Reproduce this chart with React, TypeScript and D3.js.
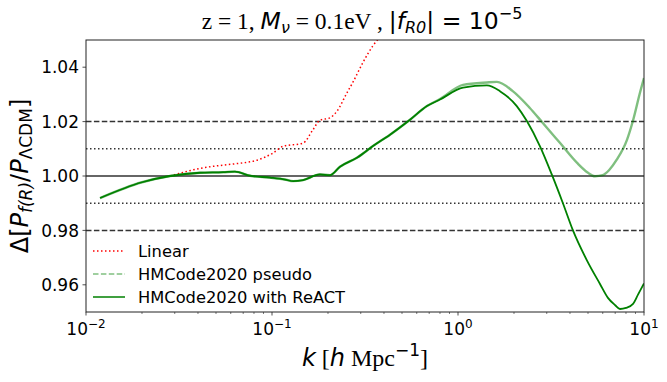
import React from 'react';
import * as d3 from 'd3';

// Linear prediction (red dotted)
const kLinear = [0.0283, 0.041, 0.0617, 0.0673, 0.083, 0.101, 0.1145, 0.147, 0.166, 0.181, 0.205, 0.2235, 0.253, 0.272, 0.308, 0.349, 0.381];
const linear = [1.0, 1.0028, 1.0044, 1.0047, 1.0058, 1.0084, 1.0109, 1.0121, 1.017, 1.0205, 1.0214, 1.0238, 1.0306, 1.0344, 1.0417, 1.0479, 1.0511];

// HMCode2020 with ReACT (green)
const kReact = [0.0119, 0.02, 0.0283, 0.041, 0.0546, 0.0632, 0.0762, 0.0975, 0.1175, 0.13, 0.147, 0.181, 0.205, 0.232, 0.286, 0.349, 0.431, 0.552, 0.681, 0.8, 1.064, 1.43, 1.68, 2.07, 2.35, 2.76, 3.2, 3.67, 4.15, 4.94, 5.79, 6.4, 7.0, 7.43, 8.0, 8.73, 9.3, 10.0];
const react = [0.9919, 0.9977, 1.0, 1.0012, 1.0014, 1.0016, 1.0001, 0.9994, 0.9987, 0.9981, 0.9985, 1.0006, 1.0003, 1.0034, 1.0067, 1.011, 1.0152, 1.0207, 1.0257, 1.0281, 1.0325, 1.0333, 1.0312, 1.0257, 1.0201, 1.0109, 1.0004, 0.9899, 0.98, 0.9689, 0.9604, 0.9552, 0.9525, 0.9511, 0.9515, 0.953, 0.9565, 0.9605];

// HMCode2020 pseudo (light green)
const kPseudo = [0.0119, 0.02, 0.0283, 0.041, 0.0546, 0.0632, 0.0762, 0.0975, 0.1175, 0.13, 0.147, 0.181, 0.205, 0.232, 0.286, 0.349, 0.431, 0.552, 0.681, 0.8, 1.064, 1.43, 1.62, 1.97, 2.42, 2.85, 3.53, 4.37, 5.0, 5.45, 6.0, 6.5, 7.12, 8.1, 8.73, 9.52, 10.0];
const pseudo = [0.9919, 0.9977, 1.0, 1.0012, 1.0014, 1.0016, 1.0001, 0.9994, 0.9987, 0.9981, 0.9985, 1.0006, 1.0003, 1.0034, 1.0067, 1.011, 1.0152, 1.0207, 1.0257, 1.0283, 1.0335, 1.0344, 1.0346, 1.0312, 1.0252, 1.0196, 1.0122, 1.0048, 1.0012, 0.9999, 1.0003, 1.0022, 1.0059, 1.0133, 1.0204, 1.0307, 1.036];

const yTicks = [0.96, 0.98, 1.0, 1.02, 1.04];
const xTickExp = [-2, -1, 0, 1];
const refSolid = [1.0];
const refDashed = [0.98, 1.02];
const refDotted = [0.99, 1.01];

const legendItems = [
  {label: 'Linear', color: 'red', dash: '1.5,2.5', width: 1.5, opacity: 1},
  {label: 'HMCode2020 pseudo', color: 'green', dash: '5.5,2.4', width: 1.5, opacity: 0.5},
  {label: 'HMCode2020 with ReACT', color: 'green', dash: null, width: 1.5, opacity: 1},
];

const SANS = 'DejaVu Sans';
const SERIF = 'Liberation Serif';

export default function App() {
  const width = 667, height = 382;
  const left = 86, right = 644, top = 40, bottom = 312;

  const x = d3.scaleLog().domain([0.01, 10]).range([left, right]);
  const y = d3.scaleLinear().domain([0.95, 1.05]).range([bottom, top]);

  const line = d3.line<[number, number]>()
    .x(d => x(d[0]))
    .y(d => y(d[1]))
    .curve(d3.curveMonotoneX);

  const zip = (ks: number[], vs: number[]) => ks.map((k, i) => [k, vs[i]] as [number, number]);

  const minorTicks: number[] = [];
  for (let e = -2; e < 1; e++) {
    for (let m = 2; m < 10; m++) minorTicks.push(m * Math.pow(10, e));
  }

  return (
    <svg width={width} height={height} style={{display: 'block', position: 'absolute', left: 0, top: 0, background: 'white'}}>
      <defs>
        <clipPath id="plot">
          <rect x={left} y={top} width={right - left} height={bottom - top} />
        </clipPath>
      </defs>

      {/* title */}
      <text x={(left + right) / 2 - 3} y={29} textAnchor="middle" fontSize={23.5} fill="black">
        <tspan fontFamily={SERIF}>z = 1, </tspan>
        <tspan fontFamily={SANS} fontStyle="italic">M</tspan>
        <tspan fontFamily={SANS} fontStyle="italic" fontSize={16} dy={4}>ν</tspan>
        <tspan fontFamily={SERIF} dy={-4}> = 0.1eV , </tspan>
        <tspan fontFamily={SANS}>|</tspan>
        <tspan fontFamily={SANS} fontStyle="italic">f</tspan>
        <tspan fontFamily={SANS} fontStyle="italic" fontSize={16} dy={4}>R0</tspan>
        <tspan fontFamily={SANS} dy={-4}>| = 10</tspan>
        <tspan fontFamily={SANS} fontSize={16} dy={-10}>−5</tspan>
      </text>

      <g clipPath="url(#plot)">
        {refDotted.map(v => (
          <line key={'dt' + v} x1={left} x2={right} y1={y(v)} y2={y(v)} stroke="#333" strokeWidth={1.5} strokeDasharray="1.5,2.5" />
        ))}
        {refDashed.map(v => (
          <line key={'ds' + v} x1={left} x2={right} y1={y(v)} y2={y(v)} stroke="#333" strokeWidth={1.5} strokeDasharray="5.5,2.4" />
        ))}
        {refSolid.map(v => (
          <line key={'sl' + v} x1={left} x2={right} y1={y(v)} y2={y(v)} stroke="#333" strokeWidth={1.5} />
        ))}

        <path d={line(zip(kLinear, linear)) || ''} fill="none" stroke="red" strokeWidth={1.5} strokeDasharray="1.5,2.5" />
        <path d={line(zip(kPseudo, pseudo)) || ''} fill="none" stroke="green" strokeOpacity={0.5} strokeWidth={2.4} />
        <path d={line(zip(kReact, react)) || ''} fill="none" stroke="green" strokeWidth={1.8} />
      </g>

      {/* frame */}
      <rect x={left} y={top} width={right - left} height={bottom - top} fill="none" stroke="#222" strokeWidth={1} />

      {/* x ticks */}
      {minorTicks.map(t => (
        <line key={'mt' + t} x1={x(t)} x2={x(t)} y1={bottom} y2={bottom + 2} stroke="#222" strokeWidth={0.6} />
      ))}
      {xTickExp.map(e => (
        <g key={'xt' + e}>
          <line x1={x(Math.pow(10, e))} x2={x(Math.pow(10, e))} y1={bottom} y2={bottom + 3.5} stroke="#222" strokeWidth={0.8} />
          <text x={x(Math.pow(10, e))} y={335} textAnchor="middle" fontFamily={SANS} fontSize={17} fill="black">
            10<tspan fontSize={12} dy={-7}>{e < 0 ? '−' + (-e) : String(e)}</tspan>
          </text>
        </g>
      ))}

      {/* y ticks */}
      {yTicks.map(t => (
        <g key={'yt' + t}>
          <line x1={left - 3.5} x2={left} y1={y(t)} y2={y(t)} stroke="#222" strokeWidth={0.8} />
          <text x={left - 7} y={y(t)} dy="0.36em" textAnchor="end" fontFamily={SANS} fontSize={17} fill="black">{t.toFixed(2)}</text>
        </g>
      ))}

      {/* x label */}
      <text x={(left + right) / 2} y={366} textAnchor="middle" fontSize={24} fill="black">
        <tspan fontFamily={SANS} fontStyle="italic">k</tspan>
        <tspan fontFamily={SERIF}> [</tspan>
        <tspan fontFamily={SANS} fontStyle="italic">h</tspan>
        <tspan fontFamily={SERIF}> Mpc</tspan>
        <tspan fontFamily={SANS} fontSize={17} dy={-10}>−1</tspan>
        <tspan fontFamily={SERIF} dy={10}>]</tspan>
      </text>

      {/* y label */}
      <text transform={`translate(28,${(top + bottom) / 2}) rotate(-90)`} textAnchor="middle" fontFamily={SANS} fontSize={24} fill="black">
        Δ[<tspan fontStyle="italic">P</tspan>
        <tspan fontStyle="italic" fontSize={17} dy={4}>f(R)</tspan>
        <tspan dy={-4}>/</tspan>
        <tspan fontStyle="italic">P</tspan>
        <tspan fontSize={17} dy={4}>ΛCDM</tspan>
        <tspan dy={-4}>]</tspan>
      </text>

      {/* legend */}
      {legendItems.map((it, i) => {
        const ly = 251 + i * 23;
        return (
          <g key={it.label}>
            <line x1={93} x2={125} y1={ly} y2={ly} stroke={it.color} strokeOpacity={it.opacity} strokeWidth={it.width}
              strokeDasharray={it.dash || undefined} />
            <text x={138} y={ly} dy="0.36em" fontFamily={SANS} fontSize={16.3} fill="black">{it.label}</text>
          </g>
        );
      })}
    </svg>
  );
}
